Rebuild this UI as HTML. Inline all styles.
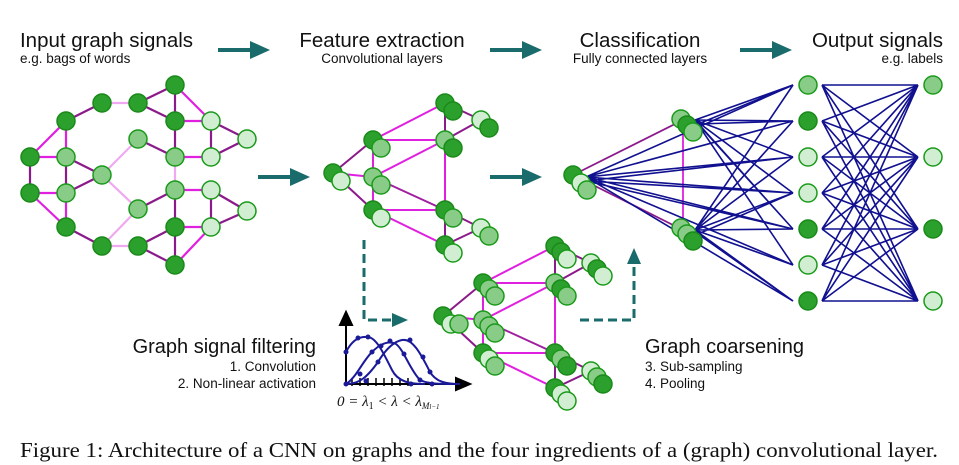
<!DOCTYPE html><html><head><meta charset="utf-8"><style>
body{margin:0;background:#fff;width:959px;height:465px;overflow:hidden}
svg{position:absolute;left:0;top:0}
.t{font-family:"Liberation Sans",sans-serif;fill:#111}
</style></head><body>
<svg width="959" height="465" viewBox="0 0 959 465">
<defs>
<g id="D"><circle r="9" fill="#2ca02c" stroke="#1a8a1a" stroke-width="1.5"/></g>
<g id="M"><circle r="9" fill="#88cc88" stroke="#1a9a1a" stroke-width="1.5"/></g>
<g id="L"><circle r="9" fill="#d2eed2" stroke="#1a9a1a" stroke-width="1.5"/></g>
<marker id="ah" markerUnits="userSpaceOnUse" markerWidth="20" markerHeight="18" refX="2" refY="9" orient="auto"><path d="M0,0L20,9L0,18z" fill="#1a6b6b"/></marker>
<marker id="ah2" markerUnits="userSpaceOnUse" markerWidth="16" markerHeight="14" refX="2" refY="7" orient="auto"><path d="M0,0L16,7L0,14z" fill="#1a6b6b"/></marker>
<g id="mid">
<g stroke-width="2">
<line x1="333" y1="173" x2="373" y2="140" stroke="#8b1a8b"/>
<line x1="333" y1="173" x2="373" y2="177" stroke="#e020e0"/>
<line x1="333" y1="173" x2="373" y2="210" stroke="#8b1a8b"/>
<line x1="373" y1="140" x2="373" y2="210" stroke="#e020e0"/>
<line x1="373" y1="140" x2="445" y2="103" stroke="#e020e0"/>
<line x1="373" y1="140" x2="445" y2="140" stroke="#e020e0"/>
<line x1="373" y1="177" x2="445" y2="140" stroke="#e020e0"/>
<line x1="373" y1="177" x2="445" y2="210" stroke="#a020a0"/>
<line x1="373" y1="210" x2="445" y2="210" stroke="#e020e0"/>
<line x1="373" y1="210" x2="445" y2="245" stroke="#e020e0"/>
<line x1="445" y1="103" x2="445" y2="140" stroke="#8b1a8b"/>
<line x1="445" y1="140" x2="445" y2="210" stroke="#e020e0"/>
<line x1="445" y1="210" x2="445" y2="245" stroke="#8b1a8b"/>
<line x1="445" y1="103" x2="481" y2="120" stroke="#8b1a8b"/>
<line x1="445" y1="140" x2="481" y2="120" stroke="#8b1a8b"/>
<line x1="445" y1="210" x2="481" y2="228" stroke="#8b1a8b"/>
<line x1="445" y1="245" x2="481" y2="228" stroke="#8b1a8b"/>
</g>
</g>
</defs>

<!-- titles -->
<text class="t" x="20" y="47" font-size="20.5" textLength="173">Input graph signals</text>
<text class="t" x="20" y="63" font-size="13.5">e.g. bags of words</text>
<text class="t" x="382" y="47" font-size="20.5" text-anchor="middle">Feature extraction</text>
<text class="t" x="382" y="63" font-size="13.5" text-anchor="middle">Convolutional layers</text>
<text class="t" x="640" y="47" font-size="20.5" text-anchor="middle">Classification</text>
<text class="t" x="640" y="63" font-size="13.5" text-anchor="middle">Fully connected layers</text>
<text class="t" x="943" y="47" font-size="20.5" text-anchor="end">Output signals</text>
<text class="t" x="943" y="63" font-size="13.5" text-anchor="end">e.g. labels</text>

<!-- arrows -->
<g stroke="#1a6b6b" stroke-width="4" fill="none">
<line x1="218" y1="50" x2="252" y2="50" marker-end="url(#ah)"/>
<line x1="490" y1="50" x2="524" y2="50" marker-end="url(#ah)"/>
<line x1="740" y1="50" x2="774" y2="50" marker-end="url(#ah)"/>
<line x1="258" y1="177" x2="292" y2="177" marker-end="url(#ah)"/>
<line x1="490" y1="177" x2="524" y2="177" marker-end="url(#ah)"/>
<polyline points="364,240 364,320 394,320" stroke-dasharray="9,5" marker-end="url(#ah2)" stroke-width="3"/>
<polyline points="580,320 634,320 634,262" stroke-dasharray="9,5" marker-end="url(#ah2)" stroke-width="3"/>
</g>

<!-- left graph edges -->
<g stroke-width="2.2">
<g stroke="#8b1a8b">
<line x1="30" y1="157" x2="30" y2="193"/><line x1="66" y1="121" x2="102" y2="103"/><line x1="66" y1="157" x2="66" y2="193"/>
<line x1="66" y1="157" x2="102" y2="175"/><line x1="66" y1="193" x2="102" y2="175"/><line x1="138" y1="103" x2="175" y2="85"/>
<line x1="138" y1="103" x2="175" y2="121"/><line x1="138" y1="139" x2="175" y2="157"/><line x1="66" y1="227" x2="102" y2="246"/>
<line x1="138" y1="246" x2="175" y2="227"/><line x1="138" y1="246" x2="175" y2="265"/><line x1="138" y1="209" x2="175" y2="190"/>
<line x1="175" y1="85" x2="175" y2="121"/><line x1="175" y1="121" x2="175" y2="157"/><line x1="211" y1="121" x2="211" y2="157"/>
<line x1="211" y1="121" x2="247" y2="139"/><line x1="211" y1="157" x2="247" y2="139"/><line x1="175" y1="190" x2="175" y2="265"/>
<line x1="211" y1="190" x2="211" y2="227"/><line x1="211" y1="190" x2="247" y2="211"/><line x1="211" y1="227" x2="247" y2="211"/>
</g>
<g stroke="#e020e0">
<line x1="30" y1="157" x2="66" y2="121"/><line x1="30" y1="157" x2="66" y2="157"/><line x1="30" y1="193" x2="66" y2="193"/>
<line x1="30" y1="193" x2="66" y2="227"/><line x1="66" y1="121" x2="66" y2="157"/><line x1="66" y1="193" x2="66" y2="227"/>
<line x1="175" y1="85" x2="211" y2="121"/><line x1="175" y1="121" x2="211" y2="121"/><line x1="175" y1="157" x2="211" y2="157"/>
<line x1="175" y1="190" x2="211" y2="190"/><line x1="175" y1="227" x2="211" y2="227"/><line x1="211" y1="227" x2="175" y2="265"/>
</g>
<g stroke="#f0a8f0">
<line x1="102" y1="103" x2="138" y2="103"/><line x1="102" y1="175" x2="138" y2="139"/><line x1="102" y1="175" x2="138" y2="209"/>
<line x1="102" y1="246" x2="138" y2="246"/><line x1="102" y1="246" x2="138" y2="209"/><line x1="175" y1="157" x2="175" y2="190"/>
</g>
</g>
<!-- left nodes -->
<use href="#D" x="30" y="157"/><use href="#D" x="30" y="193"/>
<use href="#D" x="66" y="121"/><use href="#M" x="66" y="157"/><use href="#M" x="66" y="193"/><use href="#D" x="66" y="227"/>
<use href="#D" x="102" y="103"/><use href="#M" x="102" y="175"/><use href="#D" x="102" y="246"/>
<use href="#D" x="138" y="103"/><use href="#M" x="138" y="139"/><use href="#M" x="138" y="209"/><use href="#D" x="138" y="246"/>
<use href="#D" x="175" y="85"/><use href="#D" x="175" y="121"/><use href="#M" x="175" y="157"/><use href="#M" x="175" y="190"/><use href="#D" x="175" y="227"/><use href="#D" x="175" y="265"/>
<use href="#L" x="211" y="121"/><use href="#L" x="211" y="157"/><use href="#L" x="211" y="190"/><use href="#L" x="211" y="227"/>
<use href="#L" x="247" y="139"/><use href="#L" x="247" y="211"/>

<!-- middle graph -->
<use href="#mid"/>
<use href="#D" x="333" y="173"/><use href="#L" x="341" y="181"/>
<use href="#D" x="373" y="140"/><use href="#M" x="381" y="148"/>
<use href="#M" x="373" y="177"/><use href="#M" x="381" y="185"/>
<use href="#D" x="373" y="210"/><use href="#L" x="381" y="218"/>
<use href="#D" x="445" y="103"/><use href="#D" x="453" y="111"/>
<use href="#M" x="445" y="140"/><use href="#D" x="453" y="148"/>
<use href="#D" x="445" y="210"/><use href="#M" x="453" y="218"/>
<use href="#D" x="445" y="245"/><use href="#L" x="453" y="253"/>
<use href="#L" x="481" y="120"/><use href="#D" x="489" y="128"/>
<use href="#L" x="481" y="228"/><use href="#M" x="489" y="236"/>

<!-- lower graph -->
<g transform="translate(110,143)"><use href="#mid"/>
<use href="#D" x="333" y="173"/><use href="#L" x="341" y="181"/><use href="#M" x="349" y="181"/>
<use href="#D" x="373" y="140"/><use href="#M" x="379" y="146"/><use href="#M" x="385" y="153"/>
<use href="#M" x="373" y="177"/><use href="#M" x="379" y="183"/><use href="#M" x="385" y="190"/>
<use href="#D" x="373" y="210"/><use href="#L" x="379" y="216"/><use href="#M" x="385" y="223"/>
<use href="#D" x="445" y="103"/><use href="#D" x="451" y="109"/><use href="#L" x="457" y="116"/>
<use href="#M" x="445" y="140"/><use href="#D" x="451" y="146"/><use href="#M" x="457" y="153"/>
<use href="#D" x="445" y="210"/><use href="#M" x="451" y="216"/><use href="#D" x="457" y="223"/>
<use href="#D" x="445" y="245"/><use href="#L" x="451" y="251"/><use href="#L" x="457" y="258"/>
<use href="#L" x="481" y="120"/><use href="#D" x="487" y="126"/><use href="#L" x="493" y="133"/>
<use href="#L" x="481" y="228"/><use href="#M" x="487" y="234"/><use href="#D" x="493" y="241"/>
</g>

<!-- filter plot -->
<g stroke="#000" stroke-width="2" fill="none">
<line x1="346" y1="384" x2="346" y2="322"/><path d="M340,325L346,312L352,325z" fill="#000"/>
<line x1="346" y1="384" x2="458" y2="384"/><path d="M456,378L470,384L456,390z" fill="#000"/>
<path d="M352,378v8M360,378v8M368,378v8M376,378v8M384,378v8M392,378v8M400,378v8M408,378v8" stroke-width="1.5"/>
</g>
<g stroke="#1a1a99" stroke-width="2" fill="none">
<path d="M346,352C352,340 360,336 368,337C376,338 382,350 392,370C398,382 410,384 425,384"/>
<path d="M346,384C356,378 362,362 372,352C380,344 388,340 396,344C404,350 410,370 420,380C428,384 440,384 455,384"/>
<path d="M346,384C360,384 368,376 378,362C384,352 392,342 402,340C412,338 420,352 430,372C436,382 446,384 460,384"/>
</g>
<g fill="#1a1a99">
<circle cx="346" cy="352" r="2.5"/><circle cx="358" cy="338" r="2.5"/><circle cx="368" cy="337" r="2.5"/><circle cx="381" cy="346" r="2.5"/><circle cx="346" cy="384" r="2.5"/>
<circle cx="360" cy="374" r="2.5"/><circle cx="372" cy="352" r="2.5"/><circle cx="390" cy="341" r="2.5"/><circle cx="404" cy="354" r="2.5"/><circle cx="410" cy="340" r="2.5"/><circle cx="420" cy="380" r="2.5"/>
<circle cx="366" cy="381" r="2.5"/><circle cx="378" cy="362" r="2.5"/><circle cx="423" cy="357" r="2.5"/><circle cx="430" cy="372" r="2.5"/><circle cx="411" cy="384" r="2.5"/><circle cx="432" cy="384" r="2.5"/>
</g>
<text x="337" y="406" font-family="Liberation Serif,serif" font-size="15" fill="#111" font-style="italic">0 = λ<tspan font-size="10" dy="3" font-style="normal">1</tspan><tspan dy="-3"> &lt; λ &lt; λ</tspan><tspan font-size="9" dy="3">M<tspan font-size="7">l−1</tspan></tspan></text>

<text class="t" x="316" y="353" font-size="20" text-anchor="end">Graph signal filtering</text>
<text class="t" x="316" y="371" font-size="13.5" text-anchor="end">1. Convolution</text>
<text class="t" x="316" y="388" font-size="13.5" text-anchor="end">2. Non-linear activation</text>
<text class="t" x="645" y="353" font-size="20">Graph coarsening</text>
<text class="t" x="645" y="371" font-size="13.5">3. Sub-sampling</text>
<text class="t" x="645" y="388" font-size="13.5">4. Pooling</text>

<!-- classification -->
<g stroke-width="1.8">
<line x1="573" y1="175" x2="683" y2="120" stroke="#8b1a8b"/>
<line x1="573" y1="175" x2="683" y2="230" stroke="#8b1a8b"/>
<line x1="683" y1="120" x2="683" y2="230" stroke="#e020e0"/>
</g>
<g stroke="#101090" stroke-width="1.6">
<path d="M586,177L793,85M586,177L793,121M586,177L793,157M586,177L793,193M586,177L793,229M586,177L793,265M586,177L793,301M586,181L793,157M586,181L793,193M586,181L793,229"/>
<path d="M695,120L793,85M695,120L793,121M695,120L793,157M695,120L793,193M695,120L793,229M695,120L793,265M698,124L793,85M698,124L793,121M698,124L793,229"/>
<path d="M695,230L793,85M695,230L793,121M695,230L793,157M695,230L793,193M695,230L793,229M695,230L793,265M695,230L793,301M698,234L793,193M698,234L793,301"/>
<path d="M822,85L918,85M822,85L918,157M822,85L918,229M822,85L918,301M822,121L918,85M822,121L918,157M822,121L918,229M822,121L918,301M822,157L918,85M822,157L918,157M822,157L918,229M822,157L918,301M822,193L918,85M822,193L918,157M822,193L918,229M822,193L918,301M822,229L918,85M822,229L918,157M822,229L918,229M822,229L918,301M822,265L918,85M822,265L918,157M822,265L918,229M822,265L918,301M822,301L918,85M822,301L918,157M822,301L918,229M822,301L918,301"/>
</g>
<use href="#D" x="573" y="175"/><use href="#L" x="581" y="183"/><use href="#M" x="587" y="190"/>
<use href="#M" x="681" y="119"/><use href="#D" x="687" y="125"/><use href="#M" x="693" y="132"/>
<use href="#M" x="681" y="228"/><use href="#M" x="687" y="234"/><use href="#D" x="693" y="241"/>
<use href="#M" x="808" y="85"/><use href="#D" x="808" y="121"/><use href="#L" x="808" y="157"/><use href="#L" x="808" y="193"/><use href="#D" x="808" y="229"/><use href="#L" x="808" y="265"/><use href="#D" x="808" y="301"/>
<use href="#M" x="933" y="85"/><use href="#L" x="933" y="157"/><use href="#D" x="933" y="229"/><use href="#L" x="933" y="301"/>

<text x="20" y="457" font-family="Liberation Serif,serif" font-size="21" fill="#111" textLength="918" lengthAdjust="spacingAndGlyphs">Figure 1: Architecture of a CNN on graphs and the four ingredients of a (graph) convolutional layer.</text>
</svg>
</body></html>
